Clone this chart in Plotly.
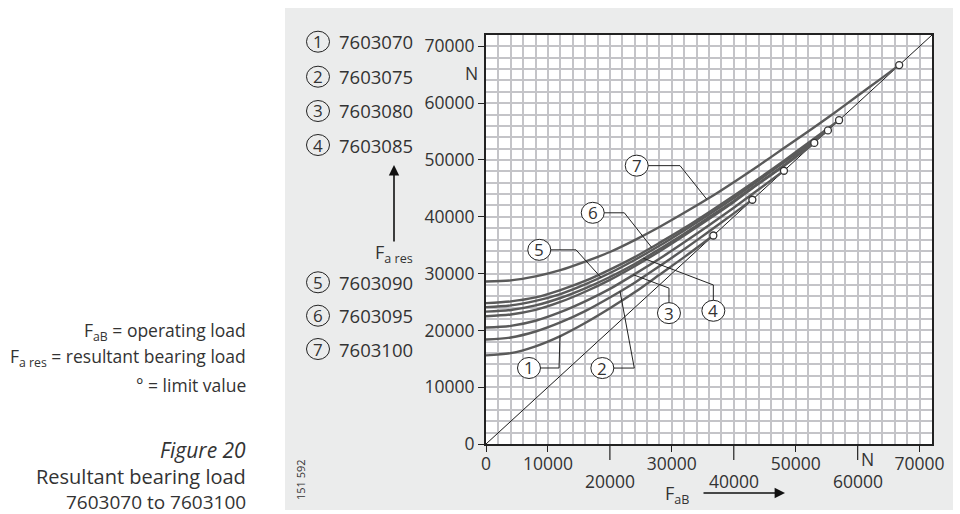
import plotly.graph_objects as go

# ---------------- data (N) ----------------
series_ids = ["7603070", "7603075", "7603080", "7603085", "7603090", "7603095", "7603100"]
label_nums = ["1", "2", "3", "4", "5", "6", "7"]

curve_g_x = [0, 4000, 8000, 12000, 16000, 20000, 24000, 28000, 32000, 36700]
curve_g_y = [15600, 16000, 17200, 19000, 21300, 23900, 26700, 29800, 32900, 36700]

curve_f_x = [0, 4000, 8000, 12000, 16000, 20000, 24000, 28000, 32000, 36000, 40000, 43000]
curve_f_y = [18400, 18750, 19800, 21400, 23400, 25800, 28400, 31300, 34300, 37400, 40600, 43000]

curve_e_x = [0, 4000, 8000, 12000, 16000, 20000, 24000, 28000, 32000, 36000, 40000, 44000, 48100]
curve_e_y = [20500, 20800, 21700, 23200, 25100, 27300, 29900, 32600, 35500, 38500, 41600, 44800, 48100]

curve_d_x = [0, 4000, 8000, 12000, 16000, 20000, 24000, 28000, 32000, 36000, 40000, 44000, 48000, 53000]
curve_d_y = [22500, 22800, 23600, 25000, 26800, 28900, 31300, 33900, 36700, 39600, 42600, 45800, 48900, 53000]

curve_c_x = [0, 4000, 8000, 12000, 16000, 20000, 24000, 28000, 32000, 36000, 40000, 44000, 48000, 53000]
curve_c_y = [23300, 23600, 24400, 25700, 27400, 29400, 31700, 34300, 37000, 39900, 42800, 45900, 49000, 53000]

curve_b_x = [0, 4000, 8000, 12000, 16000, 20000, 24000, 28000, 32000, 36000, 40000, 44000, 48000, 52000, 55200]
curve_b_y = [24100, 24400, 25200, 26400, 28100, 30100, 32400, 34900, 37600, 40400, 43300, 46400, 49500, 52600, 55200]

curve_a_x = [0, 4000, 8000, 12000, 16000, 20000, 24000, 28000, 32000, 36000, 40000, 44000, 48000, 52000, 57000]
curve_a_y = [24800, 25100, 25800, 27100, 28700, 30700, 32900, 35400, 38000, 40800, 43700, 46700, 49800, 53000, 57000]

curve_7_x = [0, 4000, 8000, 12000, 16000, 20000, 24000, 28000, 32000, 36000, 40000, 44000, 48000,
             52000, 56000, 60000, 64000, 66700]
curve_7_y = [28600, 28800, 29500, 30600, 32100, 33800, 35900, 38200, 40700, 43300, 46100, 49000, 52000,
             55000, 58100, 61300, 64500, 66700]

diag_x = [0, 72000]
diag_y = [0, 72000]

limit_vals = [36700, 43000, 48100, 53000, 55200, 57000, 66700]

x_tickvals = [0, 10000, 30000, 50000, 70000]
x_ticktext = ["0", "10000", "30000", "50000", "70000"]
x_lower_vals = [20000, 40000, 60000]
x_lower_text = ["20000", "40000", "60000"]
y_tickvals = [0, 10000, 20000, 30000, 40000, 50000, 60000, 70000]
y_ticktext = ["0", "10000", "20000", "30000", "40000", "50000", "60000", "70000"]

# label circles (data coords) and leader paths
label_pos = [(6940, 13380), (18780, 13370), (29540, 23040), (36700, 23450),
             (8600, 34180), (17230, 40700), (24330, 49000)]
leader_paths = [
    [(6940, 13380), (11790, 13380), (11950, 19100)],
    [(18780, 13370), (23940, 13370), (21630, 26900)],
    [(29540, 23040), (29540, 27440), (23780, 29800)],
    [(36700, 23450), (36700, 28000), (25400, 32700)],
    [(8600, 34180), (14530, 34180), (18570, 29300)],
    [(17230, 40700), (22330, 40700), (26750, 34600)],
    [(24330, 49000), (31320, 49000), (35630, 43100)],
]

# ---------------- styles ----------------
FONT = "Open Sans"
TXT = "#333333"
CURVE = "#5a5a5a"
GRID = "#c4c4c8"
PANEL = "#ebecec"

fig = go.Figure()

fig.add_trace(go.Scatter(x=diag_x, y=diag_y, mode="lines",
                         line=dict(color="#1a1a1a", width=1), showlegend=False, hoverinfo="skip"))

curves = [(curve_g_x, curve_g_y), (curve_f_x, curve_f_y), (curve_e_x, curve_e_y),
          (curve_d_x, curve_d_y), (curve_c_x, curve_c_y), (curve_b_x, curve_b_y),
          (curve_a_x, curve_a_y), (curve_7_x, curve_7_y)]
for cx, cy in curves:
    fig.add_trace(go.Scatter(x=cx, y=cy, mode="lines",
                             line=dict(color=CURVE, width=2.4, shape="spline", smoothing=0.8),
                             showlegend=False, hoverinfo="skip"))

for path in leader_paths:
    fig.add_trace(go.Scatter(x=[p[0] for p in path], y=[p[1] for p in path], mode="lines",
                             line=dict(color="#222222", width=1), showlegend=False, hoverinfo="skip"))

fig.add_trace(go.Scatter(x=limit_vals, y=limit_vals, mode="markers",
                         marker=dict(size=7, color="white", line=dict(color="#333333", width=1.3)),
                         showlegend=False, hoverinfo="skip"))

shapes = []
annotations = []

# plot geometry in px
L, R, T, B = 486, 28, 35, 70
W, H = 960, 514
pw, ph = W - L - R, H - T - B


def px2paper(px, py):
    return (px - L) / pw, (H - B - py) / ph


def txt(x, y, text, size=17, xref="paper", yref="paper", xanchor="center", **kw):
    d = dict(x=x, y=y, xref=xref, yref=yref, text=text, showarrow=False,
             xanchor=xanchor, yanchor="middle", font=dict(family=FONT, size=size, color=TXT))
    d.update(kw)
    annotations.append(d)


# grey panel + white plot area
x0, y0 = px2paper(285, 510)
x1, y1 = px2paper(953, 8)
shapes.append(dict(type="rect", xref="paper", yref="paper", x0=x0, x1=x1, y0=y0, y1=y1,
                   fillcolor=PANEL, line=dict(width=0), layer="below"))
shapes.append(dict(type="rect", xref="paper", yref="paper", x0=0, x1=1, y0=0, y1=1,
                   fillcolor="white", line=dict(width=0), layer="below"))

# long ticks on x axis + their labels in the second row
_, row2y = px2paper(0, 481)
for v, t in zip(x_lower_vals, x_lower_text):
    shapes.append(dict(type="line", xref="x", yref="paper", x0=v, x1=v, y0=0, y1=-16 / ph,
                       line=dict(color="#222222", width=1.2)))
    txt(v, row2y, t, size=17.5, xref="x")

# circles in plot
for (cx, cy), num in zip(label_pos, label_nums):
    shapes.append(dict(type="circle", xref="x", yref="y", xsizemode="pixel", ysizemode="pixel",
                       xanchor=cx, yanchor=cy, x0=-11.5, x1=11.5, y0=-10.5, y1=10.5,
                       fillcolor="white", line=dict(color="#222222", width=1), layer="above"))
    txt(cx, cy, num, xref="x", yref="y")

# legend on the left
leg_py = [41.7, 76.7, 111, 145, 282.3, 315.7, 349]
for py, num, sid in zip(leg_py, label_nums, series_ids):
    cxp, cyp = px2paper(318, py)
    shapes.append(dict(type="circle", xref="paper", yref="paper", xsizemode="pixel", ysizemode="pixel",
                       xanchor=cxp, yanchor=cyp, x0=-11.5, x1=11.5, y0=-10.5, y1=10.5,
                       fillcolor="rgba(0,0,0,0)", line=dict(color="#222222", width=1)))
    txt(cxp, cyp, num)
    tx, _ = px2paper(336.5, py)
    txt(tx, cyp, sid, size=18.5, xanchor="left")

# axis unit labels "N"
nx, ny = px2paper(471.7, 73.3)
txt(nx, ny, "N", size=17.5)
_, nyx = px2paper(0, 458.5)
txt(61600, nyx, "N", size=17.5, xref="x")

# axis titles with arrows
ax_, ay_ = px2paper(394, 165)
annotations.append(dict(x=ax_, y=ay_, xref="paper", yref="paper", ax=0, ay=78, text="",
                        showarrow=True, arrowhead=2, arrowsize=1.3, arrowwidth=1.6, arrowcolor="#111111"))
fx, fy = px2paper(394, 253)
txt(fx, fy, "F<sub>a res</sub>", size=18)
bx, by = px2paper(785, 493)
annotations.append(dict(x=bx, y=by, xref="paper", yref="paper", ax=-83, ay=0, text="",
                        showarrow=True, arrowhead=2, arrowsize=1.3, arrowwidth=1.6, arrowcolor="#111111"))
fbx, fby = px2paper(677, 494)
txt(fbx, fby, "F<sub>aB</sub>", size=18)

# figure number
vx, vy = px2paper(300, 480)
txt(vx, vy, "151 592", size=11, textangle=-90)

# left explanatory texts
rx, _ = px2paper(248, 0)
left_lines = [
    (331, "F<sub>aB</sub> = operating load", 17.5),
    (357.3, "F<sub>a res</sub> = resultant bearing load", 17.5),
    (385, "° = limit value", 17.5),
    (450, "<i>Figure 20</i>", 21),
    (476.5, "Resultant bearing load", 20),
    (501.5, "7603070 to 7603100", 19),
]
for py, t, sz in left_lines:
    _, ty = px2paper(0, py)
    txt(rx, ty, t, size=sz, xanchor="right")

axis_common = dict(
    range=[0, 72000], showline=True, linewidth=2, linecolor="#222222", mirror=True,
    ticks="outside", ticklen=6, tickwidth=1.2, tickcolor="#222222",
    showgrid=True, gridcolor=GRID, gridwidth=2,
    minor=dict(dtick=2000, showgrid=True, gridcolor=GRID, gridwidth=2),
    zeroline=False, tickfont=dict(family=FONT, size=17.5, color=TXT), fixedrange=True,
    automargin=False,
)

fig.update_layout(
    width=W, height=H, margin=dict(l=L, r=R, t=T, b=B, autoexpand=False),
    paper_bgcolor="white", plot_bgcolor="white",
    xaxis=dict(tickvals=x_tickvals, ticktext=x_ticktext, ticklabelstandoff=-3, **axis_common),
    yaxis=dict(tickvals=y_tickvals, ticktext=y_ticktext, **axis_common),
    shapes=shapes, annotations=annotations, showlegend=False,
)

fig.write_html("out.html", config={"displayModeBar": False},
               post_script="document.body.style.margin='0px';")
